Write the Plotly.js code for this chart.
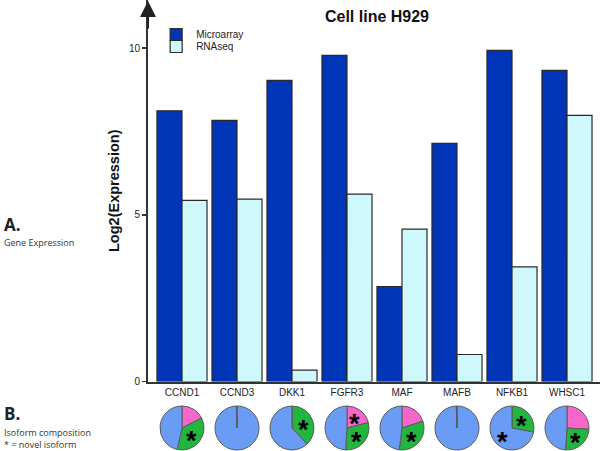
<!DOCTYPE html>
<html>
<head>
<meta charset="utf-8">
<script src="https://cdn.plot.ly/plotly-3.0.1.min.js"></script>
<style>html,body{margin:0;padding:0;background:#fff;}#chart{width:600px;height:451px;}</style>
</head>
<body>
<div id="chart"></div>
<script>
// ---- data ----
var genes = ['CCND1','CCND3','DKK1','FGFR3','MAF','MAFB','NFKB1','WHSC1'];
var microarray = [8.12, 7.83, 9.03, 9.78, 2.85, 7.14, 9.93, 9.33];
var rnaseq = [5.43, 5.47, 0.34, 5.62, 4.57, 0.81, 3.44, 7.98];
// isoform composition (percent), slices clockwise from 12 o'clock: pink, green, blue
var pinkPct  = [17.5, 0, 0, 21, 20, 0, 0, 26];
var greenPct = [36, 0, 38, 30, 32, 0, 28, 25];
var bluePct  = [46.5, 100, 62, 49, 48, 100, 72, 49];
// novel isoform flags (asterisk)
var novelPink  = [0, 0, 0, 1, 0, 0, 0, 0];
var novelGreen = [1, 0, 1, 1, 1, 0, 1, 1];
var novelBlue  = [0, 0, 0, 0, 0, 0, 1, 0];

// ---- styling ----
var W = 600, H = 451;
var mL = 148;
var plotW = W - mL;
var xRange = [-0.618, 7.6];
var pitch = plotW / (xRange[1] - xRange[0]);
var pieR = 22, pieCY = 428;
var cPink = '#f766c8', cGreen = '#22b63f', cBlue = '#6b9cf5';

var traces = [
  {type: 'bar', name: 'Microarray', x: genes, y: microarray,
   marker: {color: '#0035b8', line: {color: '#2a2a2a', width: 1.2}},
   legend: 'legend', hoverinfo: 'x+y'},
  {type: 'bar', name: 'RNAseq', x: genes, y: rnaseq,
   marker: {color: '#cff8fc', line: {color: '#2a2a2a', width: 1.2}},
   legend: 'legend2', hoverinfo: 'x+y'}
];

var starAnn = [];
for (var i = 0; i < genes.length; i++) {
  var vals = [pinkPct[i], greenPct[i], bluePct[i]];
  var flags = [novelPink[i], novelGreen[i], novelBlue[i]];
  var cols = [cPink, cGreen, cBlue];
  var total = vals.reduce(function(a, b){return a + b;}, 0);
  var cx = mL + (i - xRange[0]) * pitch;
  // asterisk annotations at the middle of each flagged slice
  var cum = 0;
  for (var k = 0; k < vals.length; k++) {
    if (flags[k] && vals[k] > 0) {
      var th = 2 * Math.PI * (cum + vals[k] / 2) / total;
      var px = cx + 0.55 * pieR * Math.sin(th);
      var py = pieCY - 0.55 * pieR * Math.cos(th);
      starAnn.push({xref: 'paper', yref: 'paper', x: (px - mL) / plotW, y: (H - py) / H,
        xanchor: 'center', yanchor: 'middle', yshift: -6, text: '<b>*</b>', showarrow: false,
        font: {size: 27, color: '#000', family: 'Liberation Sans, Arial'}});
    }
    cum += vals[k];
  }
  // a single-isoform pie is drawn as two touching parts of one colour so the
  // radial edge at 12 o'clock shows, as in the original
  var nonZero = vals.filter(function(v){return v > 0;}).length;
  if (nonZero === 1) {
    var idx = vals.findIndex(function(v){return v > 0;});
    vals = [vals[idx] * 0.995, vals[idx] * 0.005];
    cols = [cols[idx], cols[idx]];
  }
  traces.push({
    type: 'pie', values: vals, labels: vals.map(function(_, k){return genes[i] + ' ' + k;}),
    textinfo: 'none',
    sort: false, direction: 'clockwise', rotation: 0, showlegend: false,
    marker: {colors: cols, line: {color: '#5a5a5a', width: 1}},
    domain: {x: [(cx - pieR - mL) / plotW, (cx + pieR - mL) / plotW],
             y: [(H - pieCY - pieR) / H, (H - pieCY + pieR) / H]},
    hoverinfo: 'none'
  });
}

var axisBottomPx = 381.5;
var pxPerUnit = 33.34;
var leftX = -mL / plotW + 2 / plotW;
var layout = {
  width: W, height: H,
  margin: {l: mL, r: 0, t: 0, b: 0},
  paper_bgcolor: '#fff', plot_bgcolor: '#fff',
  font: {family: 'Liberation Sans, Arial, sans-serif', color: '#222'},
  title: {text: '<b>Cell line H929</b>', font: {size: 16, color: '#111'},
          x: 377 / W, xref: 'container', xanchor: 'center', y: 1 - 16 / H, yref: 'container', yanchor: 'middle'},
  barmode: 'group', bargap: 0.09, bargroupgap: 0,
  xaxis: {range: xRange, showline: true, linecolor: '#333', linewidth: 2, ticks: '',
          tickfont: {size: 10, color: '#222'}, showgrid: false, zeroline: false, fixedrange: true},
  yaxis: {domain: [(H - axisBottomPx) / H, 1], range: [0, axisBottomPx / pxPerUnit],
          tickvals: [0, 5, 10], ticktext: ['0', '5', '10'],
          showline: true, linecolor: '#333', linewidth: 2, ticks: 'outside', ticklen: 4, tickwidth: 1.5, tickcolor: '#333',
          tickfont: {size: 10, color: '#222'}, showgrid: false, zeroline: false,
          title: {text: '<b>Log2(Expression)</b>', font: {size: 14.5, color: '#111'}, standoff: 6}},
  legend: {x: 0.018, y: 1 - 20 / H, xanchor: 'left', yanchor: 'top', font: {size: 10, color: '#222'},
           bgcolor: 'rgba(0,0,0,0)', itemwidth: 30},
  legend2: {x: 0.018, y: 1 - 32 / H, xanchor: 'left', yanchor: 'top', font: {size: 10, color: '#222'},
            bgcolor: 'rgba(0,0,0,0)', itemwidth: 30},
  showlegend: true,
  annotations: [
    {xref: 'paper', yref: 'paper', x: 0, y: 1, ax: 0, ay: 30, text: '', showarrow: true,
     arrowhead: 2, arrowsize: 1.6, arrowwidth: 2, arrowcolor: '#222', standoff: 0},
    {xref: 'paper', yref: 'paper', x: leftX, y: 1 - 224 / H, xanchor: 'left', yanchor: 'middle',
     text: '<b>A.</b>', showarrow: false, font: {size: 17, color: '#222', family: 'Open Sans, sans-serif'}},
    {xref: 'paper', yref: 'paper', x: leftX, y: 1 - 242 / H, xanchor: 'left', yanchor: 'middle',
     text: 'Gene Expression', showarrow: false, font: {size: 9, color: '#333', family: 'Open Sans, sans-serif'}},
    {xref: 'paper', yref: 'paper', x: leftX, y: 1 - 413 / H, xanchor: 'left', yanchor: 'middle',
     text: '<b>B.</b>', showarrow: false, font: {size: 17, color: '#222', family: 'Open Sans, sans-serif'}},
    {xref: 'paper', yref: 'paper', x: leftX, y: 1 - 438 / H, xanchor: 'left', yanchor: 'middle', align: 'left',
     text: 'Isoform composition<br>* = novel isoform', showarrow: false,
     font: {size: 9, color: '#333', family: 'Open Sans, sans-serif'}}
  ].concat(starAnn)
};

Plotly.newPlot('chart', traces, layout, {displayModeBar: false, staticPlot: true});
</script>
</body>
</html>
